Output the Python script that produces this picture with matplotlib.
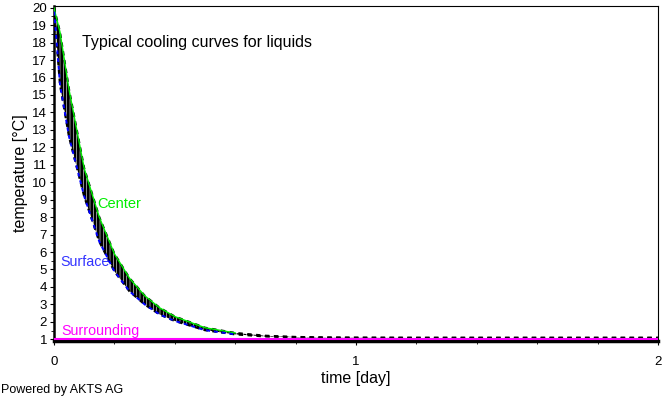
import matplotlib
matplotlib.use("Agg")
import matplotlib.pyplot as plt
import numpy as np

plt.rcParams['font.family'] = ['Liberation Sans', 'DejaVu Sans']
plt.rcParams['hatch.linewidth'] = 2.0

# time in days
time_center = [0, 0.02, 0.05, 0.1, 0.15, 0.2, 0.25, 0.3, 0.35, 0.4, 0.5, 0.6, 0.7, 0.8, 0.9, 1.0, 1.2, 1.5, 2.0]
temp_center = [20, 18.6, 15.3, 10.8, 8.0, 5.9, 4.5, 3.5, 2.8, 2.3, 1.66, 1.36, 1.2, 1.13, 1.1, 1.09, 1.08, 1.08, 1.08]
temp_surface = [20, 15.6, 12.6, 9.2, 6.6, 4.9, 3.75, 3.0, 2.42, 2.05, 1.52, 1.28, 1.16, 1.11, 1.09, 1.08, 1.08, 1.08, 1.08]
time_surr = [0, 2]
temp_surr = [1.0, 1.0]

xticks = [0, 1, 2]
yticks = list(range(1, 21))

fig = plt.figure(figsize=(6.66, 3.99), dpi=100)
ax = fig.add_axes([0.081, 0.1454, 0.907, 0.8396])

ax.fill_between(time_center, temp_surface, temp_center, facecolor='white',
                edgecolor='black', hatch='|||||', linewidth=0, zorder=2)
ax.plot(time_center, temp_center, color='black', lw=1.6, ls=(0, (2, 2)), zorder=3)
ax.plot(time_center[:12], temp_center[:12], color='#00ee00', lw=1.0, zorder=4)
ax.plot(time_center, temp_surface, color='black', lw=1.6, ls=(0, (2, 2)), zorder=3)
ax.plot(time_center[:12], temp_surface[:12], color='#0000ff', lw=1.4, ls=(2, (2, 2)), zorder=4)
ax.plot(time_surr, temp_surr, color='#ff00ff', lw=1.5, zorder=5)

ax.text(0.142, 8.75, 'Center', color='#00ee00', fontsize=10.5, va='center', ha='left')
ax.text(0.02, 5.45, 'Surface', color='#3333ff', fontsize=10.3, va='center', ha='left')
ax.text(0.025, 1.5, 'Surrounding', color='#ff00ff', fontsize=10.3, va='center', ha='left')
ax.text(0.093, 18.0, 'Typical cooling curves for liquids', color='black', fontsize=11.5,
        va='center', ha='left')

ax.set_xlim(0, 2)
ax.set_ylim(0.9, 20.1)
ax.set_xticks(xticks)
ax.set_xticks(np.arange(0, 2.01, 0.2), minor=True)
ax.set_yticks(yticks)
ax.set_yticks(np.arange(1.5, 20, 1.0), minor=True)
ax.tick_params(axis='both', which='major', direction='out', length=3, width=0.8,
               labelsize=9.5, pad=2)
ax.tick_params(axis='both', which='minor', direction='out', length=2, width=0.6)
ax.tick_params(axis='x', pad=8)

for s in ['top', 'right']:
    ax.spines[s].set_linewidth(0.8)
ax.spines['left'].set_linewidth(1.8)
ax.spines['bottom'].set_linewidth(2.5)

ax.set_xlabel('time [day]', fontsize=11.5, labelpad=2)
ax.set_ylabel('temperature [°C]', fontsize=11.5, labelpad=3)

fig.text(0.002, 0.022, 'Powered by AKTS AG', fontsize=9, ha='left', va='center')

fig.savefig('out.png', dpi=100)
